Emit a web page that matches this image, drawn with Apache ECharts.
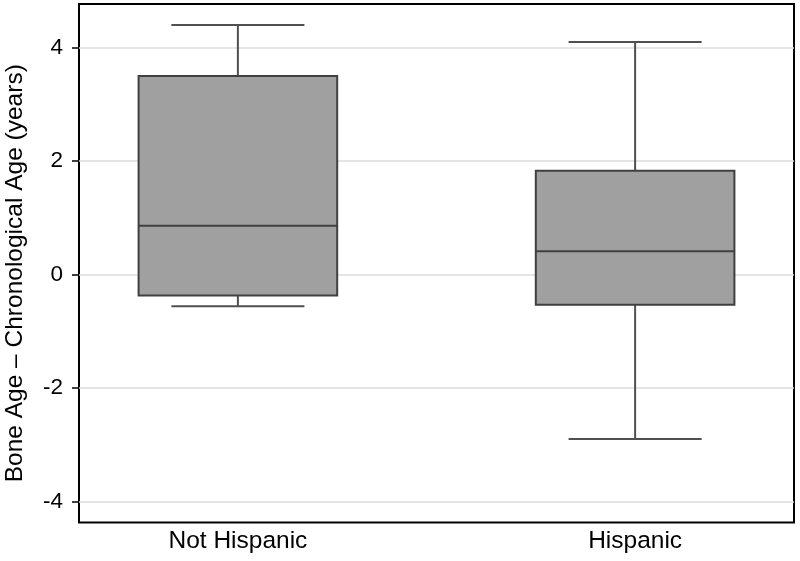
<!DOCTYPE html>
<html>
<head>
<meta charset="utf-8">
<script src="https://cdn.jsdelivr.net/npm/echarts@6/dist/echarts.min.js"></script>
<style>html,body{margin:0;padding:0;background:#fff;}#c{width:800px;height:561px;}</style>
</head>
<body>
<div id="c"></div>
<script>
const categories = ['Not Hispanic', 'Hispanic'];
const positions = [1, 2];
const lowWhisker = [-0.56, -2.90];
const q1 = [-0.37, -0.53];
const median = [0.86, 0.41];
const q3 = [3.50, 1.83];
const highWhisker = [4.40, 4.10];
const yTicks = [-4, -2, 0, 2, 4];
const yTitle = 'Bone Age \u2013 Chronological Age (years)';

const FONT = '"Liberation Sans", Arial, Helvetica, sans-serif';
const BOX_W = 0.5;   // box width in x-axis units
const CAP_W = 0.335; // whisker cap width in x-axis units

const boxData = positions.map((p, i) => [p, lowWhisker[i], q1[i], median[i], q3[i], highWhisker[i]]);

const chart = echarts.init(document.getElementById('c'), null, {renderer: 'canvas'});
chart.setOption({
  animation: false,
  backgroundColor: '#fff',
  grid: {left: 79, right: 6, top: 4, bottom: 38.5, show: true, borderColor: '#000', borderWidth: 2, backgroundColor: 'transparent', containLabel: false, outerBoundsMode: 'none'},
  xAxis: {
    type: 'value', min: 0.6, max: 2.4,
    axisLine: {show: false}, axisTick: {show: false}, splitLine: {show: false},
    axisLabel: {customValues: positions, formatter: v => categories[positions.indexOf(v)] || '', fontSize: 24.5, color: '#000', fontFamily: FONT, margin: 6}
  },
  yAxis: {
    type: 'value', min: -4.37, max: 4.77,
    name: yTitle, nameLocation: 'middle', nameGap: 51,
    nameTextStyle: {fontSize: 24.5, color: '#000', fontFamily: FONT, padding: [0, 20, 0, 0]},
    axisLine: {show: false},
    axisTick: {show: true, customValues: yTicks, length: 7, lineStyle: {color: '#000', width: 1.5}},
    axisLabel: {customValues: yTicks, fontSize: 22.5, color: '#000', fontFamily: FONT, margin: 16},
    splitLine: {show: true, lineStyle: {color: '#dcdcdc', width: 1.5}}
  },
  series: [{
    type: 'custom',
    data: boxData,
    renderItem: function (params, api) {
      const x = api.value(0);
      const pLow = api.coord([x, api.value(1)]);
      const pQ1 = api.coord([x, api.value(2)]);
      const pMed = api.coord([x, api.value(3)]);
      const pQ3 = api.coord([x, api.value(4)]);
      const pHigh = api.coord([x, api.value(5)]);
      const bw = api.size([BOX_W, 0])[0];
      const cw = api.size([CAP_W, 0])[0];
      const cx = pMed[0];
      const lineStyle = {stroke: '#505050', lineWidth: 2};
      const boxStroke = {stroke: '#404040', lineWidth: 2};
      return {
        type: 'group',
        children: [
          {type: 'line', shape: {x1: cx, y1: pQ3[1], x2: cx, y2: pHigh[1]}, style: lineStyle},
          {type: 'line', shape: {x1: cx, y1: pQ1[1], x2: cx, y2: pLow[1]}, style: lineStyle},
          {type: 'line', shape: {x1: cx - cw / 2, y1: pHigh[1], x2: cx + cw / 2, y2: pHigh[1]}, style: lineStyle},
          {type: 'line', shape: {x1: cx - cw / 2, y1: pLow[1], x2: cx + cw / 2, y2: pLow[1]}, style: lineStyle},
          {type: 'rect', shape: {x: cx - bw / 2, y: pQ3[1], width: bw, height: pQ1[1] - pQ3[1]}, style: Object.assign({fill: '#a0a0a0'}, boxStroke)},
          {type: 'line', shape: {x1: cx - bw / 2, y1: pMed[1], x2: cx + bw / 2, y2: pMed[1]}, style: boxStroke}
        ]
      };
    }
  }]
});
</script>
</body>
</html>
